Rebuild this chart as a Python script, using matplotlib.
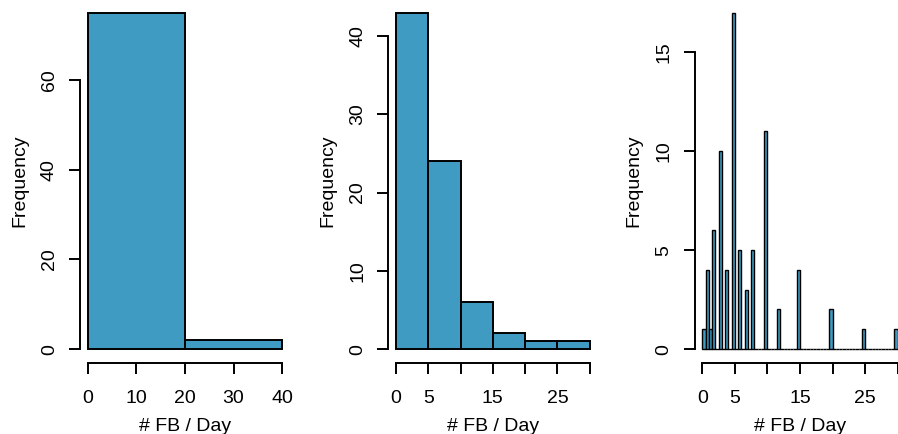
import matplotlib
matplotlib.use("Agg")
import matplotlib.pyplot as plt
import numpy as np

plt.rcParams['font.family'] = ['Liberation Sans', 'DejaVu Sans']

# observed values (# FB / day) and how many days had each value
fb_values = [0, 1, 1.5, 2, 3, 4, 5, 6, 7, 8, 10, 12, 15, 20, 25, 30]
fb_days = [1, 4, 1, 6, 10, 4, 17, 5, 3, 5, 11, 2, 4, 2, 1, 1]

# histogram breaks for the three panels
breaks_1 = [0, 20, 40]
breaks_2 = [0, 5, 10, 15, 20, 25, 30]
breaks_3 = list(np.arange(0, 30.5, 0.5))

xticks_1 = [0, 10, 20, 30, 40]
xlabels_1 = ['0', '10', '20', '30', '40']
yticks_1 = [0, 20, 40, 60]
xticks_2 = [0, 5, 10, 15, 20, 25, 30]
xlabels_2 = ['0', '5', '', '15', '', '25', '']
yticks_2 = [0, 10, 20, 30, 40]
yticks_3 = [0, 5, 10, 15]

fill = '#409BC3'


def r_hist(edges):
    # right-closed bins like R's hist (include.lowest)
    edges = np.asarray(edges, dtype=float)
    counts = np.zeros(len(edges) - 1)
    for v, n in zip(fb_values, fb_days):
        i = max(np.searchsorted(edges, v, side='left') - 1, 0)
        counts[i] += n
    return edges, counts


def draw(ax, breaks, xticks, xlabels, yticks, lw=1.4):
    edges, counts = r_hist(breaks)
    ax.bar(edges[:-1], counts, width=np.diff(edges), align='edge',
           color=fill, edgecolor='black', linewidth=lw)
    x0, x1 = edges[0], edges[-1]
    ymax = counts.max()
    ax.set_xlim(x0 - 0.04 * (x1 - x0), x1 + 0.04 * (x1 - x0))
    ax.set_ylim(-0.04 * ymax, 1.04 * ymax)
    for s in ['top', 'right']:
        ax.spines[s].set_visible(False)
    for s in ['left', 'bottom']:
        ax.spines[s].set_linewidth(1.4)
    ax.spines['bottom'].set_bounds(xticks[0], xticks[-1])
    ax.spines['left'].set_bounds(yticks[0], yticks[-1])
    ax.set_xticks(xticks)
    ax.set_xticklabels(xlabels)
    ax.set_yticks(yticks)
    ax.set_yticklabels([str(t) for t in yticks], rotation=90, va='center')
    ax.tick_params(length=8, width=1.4, labelsize=14)
    ax.tick_params(axis='x', pad=12)
    ax.tick_params(axis='y', pad=8)
    ax.set_xlabel('# FB / Day', fontsize=14, labelpad=8)
    ax.set_ylabel('Frequency', fontsize=14, labelpad=9)


fig = plt.figure(figsize=(8.98, 4.34), dpi=100)
bottom, height = 0.1647, 0.837
ax1 = fig.add_axes([0.0893, bottom, 0.2334, height])
ax2 = fig.add_axes([0.4324, bottom, 0.2329, height])
ax3 = fig.add_axes([0.7734, bottom, 0.2349, height])

draw(ax1, breaks_1, xticks_1, xlabels_1, yticks_1)
draw(ax2, breaks_2, xticks_2, xlabels_2, yticks_2)
draw(ax3, breaks_3, xticks_2, xlabels_2, yticks_3, lw=1.0)

fig.savefig('out.png', dpi=100)
